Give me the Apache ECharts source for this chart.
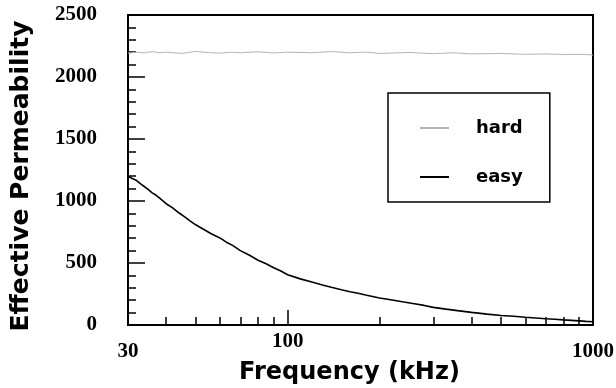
<!DOCTYPE html>
<html>
<head>
<meta charset="utf-8">
<script src="https://cdn.jsdelivr.net/npm/echarts@6/dist/echarts.min.js"></script>
<style>
  html, body { margin: 0; padding: 0; background: #fff; }
  #chart { width: 616px; height: 388px; }
</style>
</head>
<body>
<div id="chart"></div>
<script>
// frequency in kHz, permeability values
const easyFreq = [30, 31, 32, 33, 34, 35, 36, 37, 38, 40, 42, 44, 46, 48, 50, 53, 56, 60, 63, 66, 70, 75, 80, 85, 90, 95, 100,
  110, 120, 130, 140, 150, 160, 170, 180, 200, 220, 240, 260, 280, 300, 330, 360, 400, 450, 500, 550, 600, 650, 700, 750, 800, 850, 900, 950, 1000];
const easyVals = [1200, 1182, 1165, 1138, 1115, 1092, 1066, 1048, 1025, 978, 945, 905, 872, 838, 808, 772, 738, 702, 668, 642, 600, 562, 522, 494, 462, 436, 405,
  372, 346, 322, 302, 284, 268, 256, 242, 218, 202, 186, 172, 158, 142, 128, 116, 102, 88, 76, 70, 63, 57, 51, 46, 41, 37, 33, 29, 26];

const hardFreq = [30, 32, 34, 36, 38, 40, 45, 50, 55, 60, 65, 70, 80, 90, 100, 120, 140, 160, 180, 200, 250, 300, 350, 400, 500, 600, 700, 800, 900, 1000];
const hardVals = [2192, 2200, 2194, 2205, 2195, 2200, 2190, 2206, 2197, 2192, 2200, 2196, 2203, 2194, 2200, 2196, 2205, 2195, 2201, 2190, 2198, 2188, 2195, 2186, 2190, 2183, 2186, 2181, 2183, 2178];

const xLabels = [30, 100, 1000];
const xMinorTicks = [40, 50, 60, 70, 80, 90, 200, 300, 400, 500, 600, 700, 800, 900];
const xMajorTicks = [100];

const chart = echarts.init(document.getElementById('chart'), null, { renderer: 'canvas' });

const tickFont = { fontFamily: 'Liberation Serif', fontWeight: 'bold', fontSize: 21, color: '#000' };
const titleFont = { fontFamily: 'DejaVu Sans', fontWeight: 'bold', color: '#000' };

const option = {
  animation: false,
  backgroundColor: '#fff',
  grid: {
    left: 128, right: 23, top: 15, bottom: 63,
    outerBoundsMode: 'none', containLabel: false,
    show: true, borderColor: '#000', borderWidth: 2, backgroundColor: 'transparent'
  },
  legend: {
    orient: 'vertical',
    left: 388, top: 93,
    backgroundColor: '#fff',
    borderColor: '#000', borderWidth: 1.5, borderRadius: 0,
    padding: [25, 27, 15, 32],
    icon: 'rect',
    itemWidth: 29, itemHeight: 2, itemGap: 29,
    textStyle: { ...titleFont, fontSize: 18, lineHeight: 20, padding: [0, 0, 0, 22] },
    data: ['hard', 'easy']
  },
  xAxis: [
    {
      type: 'log', logBase: 10, min: 30, max: 1000,
      name: 'Frequency (kHz)', nameLocation: 'middle', nameGap: 36, nameMoveOverlap: false,
      nameTextStyle: { ...titleFont, fontSize: 24, padding: [0, 22, 0, 0] },
      axisLine: { lineStyle: { color: '#000', width: 2 } },
      axisTick: { inside: true, length: 8, lineStyle: { color: '#000', width: 1.5 }, customValues: xMinorTicks },
      axisLabel: {
        ...tickFont, margin: 6, customValues: xLabels,
        formatter: v => (v === 100 ? '{u|100}' : '{d|' + v + '}'),
        rich: {
          u: { ...tickFont },
          d: { ...tickFont, padding: [10, 0, 0, 0] }
        }
      },
      splitLine: { show: false }
    },
    {
      type: 'log', logBase: 10, min: 30, max: 1000, position: 'bottom',
      axisLine: { show: false },
      axisTick: { inside: true, length: 15, lineStyle: { color: '#000', width: 1.5 }, customValues: xMajorTicks },
      axisLabel: { show: false },
      splitLine: { show: false }
    }
  ],
  yAxis: {
    type: 'value', min: 0, max: 2500, interval: 500,
    name: 'Effective Permeability', nameLocation: 'middle', nameGap: 94, nameMoveOverlap: false,
    nameTextStyle: { ...titleFont, fontSize: 25, padding: [0, 12, 0, 0] },
    axisLine: { show: true, lineStyle: { color: '#000', width: 2 } },
    axisTick: { inside: true, length: 17, lineStyle: { color: '#000', width: 1.5 } },
    minorTick: { show: true, splitNumber: 5, length: 8, lineStyle: { color: '#000', width: 1.5 } },
    axisLabel: { ...tickFont, margin: 31, formatter: v => String(v) },
    splitLine: { show: false },
    minorSplitLine: { show: false }
  },
  series: [
    {
      name: 'hard', type: 'line', xAxisIndex: 0,
      data: hardFreq.map((f, i) => [f, hardVals[i]]),
      symbol: 'none',
      lineStyle: { color: '#b5b5b5', width: 1 },
      itemStyle: { color: '#b5b5b5' },
      emphasis: { disabled: true }
    },
    {
      name: 'easy', type: 'line', xAxisIndex: 0,
      data: easyFreq.map((f, i) => [f, easyVals[i]]),
      symbol: 'none',
      lineStyle: { color: '#000', width: 1.6 },
      itemStyle: { color: '#000' },
      emphasis: { disabled: true }
    }
  ]
};

chart.setOption(option);
window.addEventListener('resize', () => chart.resize());
</script>
</body>
</html>
